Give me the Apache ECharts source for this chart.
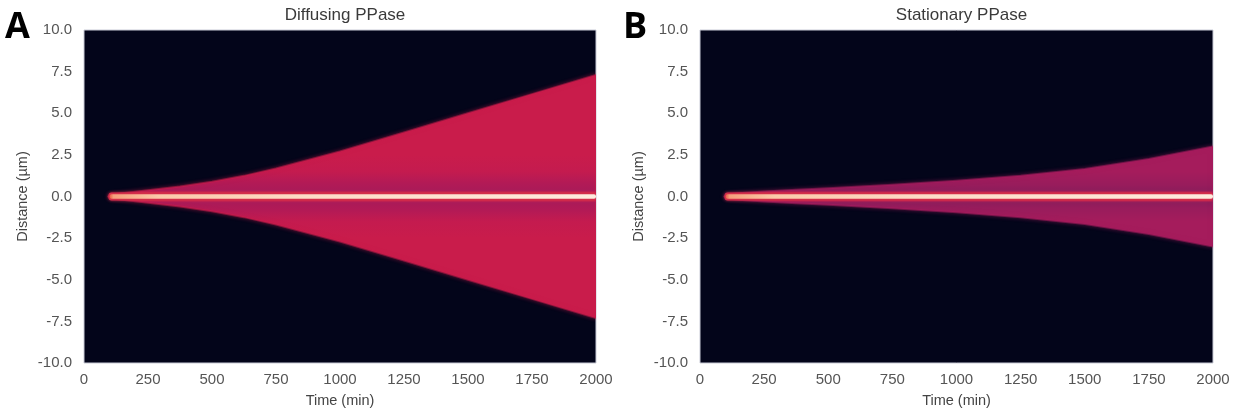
<!DOCTYPE html>
<html>
<head>
<meta charset="utf-8">
<script src="https://cdn.jsdelivr.net/npm/echarts@6/dist/echarts.min.js"></script>
<style>
  html, body { margin: 0; padding: 0; background: #ffffff; }
  #chart { width: 1239px; height: 413px; }
</style>
</head>
<body>
<div id="chart"></div>
<script>
// Simulated product spread around the channel: half-width of the signal
// envelope (µm) at sampled times (min), for each enzyme condition.
const sampleTimes          = [100, 150, 250, 375, 500, 625, 750, 1000, 1250, 1500, 1750, 2000];
const diffusingHalfWidth   = [0.1, 0.2, 0.38, 0.6, 0.88, 1.24, 1.68, 2.7, 3.85, 5.0, 6.15, 7.3];
const stationaryHalfWidth  = [0.1, 0.2, 0.3, 0.4, 0.5, 0.6, 0.7, 0.95, 1.25, 1.65, 2.25, 3.0];
const onsetTime = 100;   // time the central source switches on
const endTime = 2000;
const sourceHalfWidth = 0.14;

const panelTitles = ['Diffusing PPase', 'Stationary PPase'];
const panelLetters = ['A', 'B'];
const timeTicks = [0, 250, 500, 750, 1000, 1250, 1500, 1750, 2000];

const FONT = '"Liberation Sans", Arial, sans-serif';
const BG = '#03051a';

// colour of the band as a function of distance from the source line (µm)
const palettes = [
  { span: 2.5, stops: [[2.5, '#c91c4b'], [1.5, '#c41b4f'], [0.8, '#b21a56'], [0.35, '#aa1a58'], [0.2, '#d3264a']] },
  { span: 1.5, stops: [[1.5, '#a51c5c'], [0.7, '#981c5c'], [0.35, '#8d1c5b'], [0.2, '#c91f4e']] }
];

function bandGradient(api, pal) {
  const yTop = api.coord([0, pal.span])[1];
  const yBot = api.coord([0, -pal.span])[1];
  const colorStops = [];
  pal.stops.forEach(([d, c]) => colorStops.push({ offset: (pal.span - d) / (2 * pal.span), color: c }));
  pal.stops.slice().reverse().forEach(([d, c]) => colorStops.push({ offset: (pal.span + d) / (2 * pal.span), color: c }));
  return new echarts.graphic.LinearGradient(0, yTop, 0, yBot, colorStops, true);
}

function makeRenderer(widths, pal, edgeColor) {
  return function (params, api) {
    const upper = sampleTimes.map((t, i) => api.coord([t, widths[i]]));
    const lower = sampleTimes.map((t, i) => api.coord([t, -widths[i]])).reverse();
    const start = api.coord([onsetTime - 5, 0]);
    const pts = [start].concat(upper, lower);
    const lineA = api.coord([onsetTime, sourceHalfWidth]);
    const lineB = api.coord([endTime, -sourceHalfWidth]);
    const glowA = api.coord([onsetTime - 4, 0.24]);
    const glowB = api.coord([endTime, -0.24]);
    return {
      type: 'group',
      children: [
        {
          type: 'polygon',
          shape: { points: pts },
          style: {
            fill: bandGradient(api, pal),
            stroke: edgeColor, lineWidth: 2, lineJoin: 'round',
            shadowBlur: 4, shadowColor: edgeColor
          }
        },
        {
          type: 'rect',
          shape: { x: glowA[0], y: glowA[1], width: glowB[0] - glowA[0], height: glowB[1] - glowA[1], r: 3 },
          style: { fill: '#d32d4a', shadowBlur: 3, shadowColor: 'rgba(211,45,74,0.8)' }
        },
        {
          type: 'rect',
          shape: { x: lineA[0], y: lineA[1], width: lineB[0] - lineA[0], height: lineB[1] - lineA[1], r: 2 },
          style: {
            fill: new echarts.graphic.LinearGradient(lineA[0], 0, lineB[0], 0, [
              { offset: 0, color: '#ea5e44' },
              { offset: 0.008, color: '#f6a07c' },
              { offset: 0.1, color: '#fbc9a9' },
              { offset: 0.4, color: '#fcdcc6' },
              { offset: 1, color: '#fdebdd' }
            ], true)
          }
        }
      ]
    };
  };
}

const grids = [
  { left: 84, top: 30, width: 512, height: 333 },
  { left: 700, top: 30, width: 513, height: 333 }
];

const option = {
  animation: false,
  backgroundColor: '#ffffff',
  title: panelTitles.map((t, i) => ({
    text: t,
    left: grids[i].left + grids[i].width / 2,
    textAlign: 'center',
    top: 2,
    textStyle: { fontFamily: FONT, fontSize: 17, fontWeight: 'normal', color: '#3a3a3a' }
  })),
  graphic: panelLetters.map((l, i) => ({
    type: 'text',
    left: i === 0 ? 5 : 623,
    top: 10,
    style: { text: l, font: 'bold 36px "Open Sans", "DejaVu Sans", sans-serif', fill: '#000000' }
  })),
  grid: grids.map(g => Object.assign({}, g, {
    show: true, backgroundColor: BG, borderColor: '#c9cbd6', borderWidth: 1
  })),
  xAxis: grids.map((g, i) => ({
    type: 'value', gridIndex: i, min: 0, max: 2000, interval: 250,
    name: 'Time (min)', nameLocation: 'middle', nameGap: 30,
    nameTextStyle: { fontFamily: FONT, fontSize: 14.5, color: '#444' },
    axisLine: { show: false }, axisTick: { show: false }, splitLine: { show: false },
    axisLabel: { fontFamily: FONT, fontSize: 15, color: '#555', margin: 9,
      customValues: timeTicks, formatter: v => String(v) }
  })),
  yAxis: grids.map((g, i) => ({
    type: 'value', gridIndex: i, min: -10, max: 10, interval: 2.5,
    name: 'Distance (µm)', nameLocation: 'middle', nameGap: 54,
    nameTextStyle: { fontFamily: FONT, fontSize: 14.5, color: '#444' },
    axisLine: { show: false }, axisTick: { show: false }, splitLine: { show: false },
    axisLabel: { fontFamily: FONT, fontSize: 15, color: '#555', margin: 12,
      formatter: v => v.toFixed(1) }
  })),
  series: [
    {
      type: 'custom', xAxisIndex: 0, yAxisIndex: 0, clip: true,
      data: [[onsetTime, 0]],
      renderItem: makeRenderer(diffusingHalfWidth, palettes[0], 'rgba(201,28,75,0.55)')
    },
    {
      type: 'custom', xAxisIndex: 1, yAxisIndex: 1, clip: true,
      data: [[onsetTime, 0]],
      renderItem: makeRenderer(stationaryHalfWidth, palettes[1], 'rgba(165,28,92,0.55)')
    }
  ]
};

const chart = echarts.init(document.getElementById('chart'), null, { renderer: 'canvas' });
chart.setOption(option);
</script>
</body>
</html>
